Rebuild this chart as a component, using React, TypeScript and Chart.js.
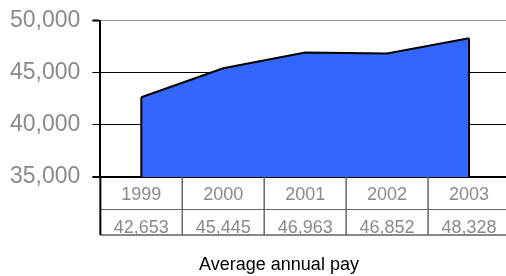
import React, { useEffect, useRef } from "react";
import { Chart, registerables } from "chart.js";

Chart.register(...registerables);

const years = ["1999", "2000", "2001", "2002", "2003"];
const pay = [42653, 45445, 46963, 46852, 48328];
const payLabels = ["42,653", "45,445", "46,963", "46,852", "48,328"];
const yMin = 35000;
const yMax = 50000;
const yStep = 5000;
const axisTitle = "Average annual pay";

const FONT = "'Liberation Sans', Arial, Helvetica, sans-serif";
const SHIFT_X = 12;
const SHIFT_Y = 5;

const tablePlugin = {
  id: "tablePlugin",
  afterDatasetsDraw(chart: any) {
    const ctx = chart.ctx;
    const meta = chart.getDatasetMeta(0);
    const pts = meta.data;
    if (!pts.length) return;
    const bottom = chart.chartArea.bottom;
    ctx.save();
    ctx.strokeStyle = "#000";
    ctx.lineWidth = 2;
    ctx.beginPath();
    const f = pts[0];
    const l = pts[pts.length - 1];
    ctx.moveTo(f.x, f.y);
    ctx.lineTo(f.x, bottom);
    ctx.moveTo(l.x, l.y);
    ctx.lineTo(l.x, bottom);
    ctx.stroke();
    ctx.restore();
  },
  afterDraw(chart: any) {
    const ctx = chart.ctx;
    const xs = chart.scales.x;
    const area = chart.chartArea;
    const n = years.length;
    const colW = (area.right - area.left) / n;
    const top = area.bottom;
    const mid = top + 32;
    const bot = top + 58;
    ctx.save();
    ctx.strokeStyle = "#666";
    ctx.lineWidth = 1;
    ctx.beginPath();
    ctx.moveTo(area.left, mid + 0.5);
    ctx.lineTo(area.right, mid + 0.5);
    ctx.stroke();
    ctx.strokeStyle = "#888";
    ctx.lineWidth = 2;
    ctx.beginPath();
    ctx.moveTo(area.left, bot);
    ctx.lineTo(area.right, bot);
    ctx.stroke();
    ctx.strokeStyle = "#666";
    ctx.lineWidth = 1.5;
    for (let i = 1; i <= n; i++) {
      const x = xs.getPixelForValue(i - 1) + colW / 2;
      ctx.beginPath();
      ctx.moveTo(x, top);
      ctx.lineTo(x, bot);
      ctx.stroke();
    }
    ctx.strokeStyle = "#000";
    ctx.lineWidth = 2;
    ctx.beginPath();
    ctx.moveTo(area.left, top);
    ctx.lineTo(area.left, bot);
    ctx.stroke();
    ctx.fillStyle = "#8a8a8a";
    ctx.font = `18px ${FONT}`;
    ctx.textAlign = "center";
    ctx.textBaseline = "alphabetic";
    for (let i = 0; i < n; i++) {
      const x = xs.getPixelForValue(i);
      ctx.fillText(years[i], x, top + 23);
      ctx.fillText(payLabels[i], x, mid + 24);
    }
    ctx.fillStyle = "#000";
    ctx.font = `18px ${FONT}`;
    ctx.fillText(axisTitle, 279 + SHIFT_X, 270 + SHIFT_Y);
    ctx.restore();
  },
};

export default function App() {
  const ref = useRef<HTMLCanvasElement | null>(null);
  useEffect(() => {
    document.body.style.margin = "0";
    document.body.style.overflow = "hidden";
    const canvas = ref.current;
    if (!canvas) return;
    const chart = new Chart(canvas, {
      type: "line",
      data: {
        labels: years,
        datasets: [
          {
            data: pay,
            fill: "start",
            backgroundColor: "#3366ff",
            borderColor: "#000",
            borderWidth: 2,
            pointRadius: 0,
            tension: 0,
          },
        ],
      },
      options: {
        animation: false,
        responsive: false,
        maintainAspectRatio: false,
        layout: { padding: { left: 10, top: 14, right: 2, bottom: 99 } },
        plugins: { legend: { display: false }, tooltip: { enabled: false } },
        scales: {
          x: { type: "category", offset: true, display: false },
          y: {
            min: yMin,
            max: yMax,
            ticks: {
              stepSize: yStep,
              color: "#8a8a8a",
              font: { size: 23, family: FONT },
              padding: 12,
              callback: (v: any) => Number(v).toLocaleString("en-US"),
            },
            grid: {
              color: (c: any) => (c.tick && c.tick.value === yMax ? "#999" : "#000"),
              lineWidth: (c: any) => (c.tick && c.tick.value === yMin ? 2 : 1),
              tickColor: "#000",
              tickWidth: (c: any) =>
                c.tick && (c.tick.value === yMin || c.tick.value === yMax) ? 2 : 1,
              tickLength: 8,
            },
            border: { color: "#000", width: 2 },
          },
        },
      },
      plugins: [tablePlugin],
    });
    return () => chart.destroy();
  }, []);
  return (
    <div style={{ width: 506, height: 276, overflow: "hidden" }}>
      <canvas
        ref={ref}
        width={512 + SHIFT_X}
        height={276 + SHIFT_Y}
        style={{ display: "block", marginLeft: -SHIFT_X, marginTop: -SHIFT_Y }}
      />
    </div>
  );
}
